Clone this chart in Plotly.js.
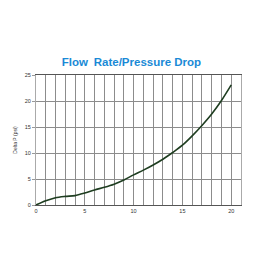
<!DOCTYPE html>
<html><head><meta charset="utf-8">
<script src="https://cdn.plot.ly/plotly-3.0.1.min.js"></script>
<style>html,body{margin:0;padding:0;background:#fff}#c{width:270px;height:270px}</style>
</head><body><div id="c"></div>
<script>
const flowRate = [0,1,2,3,4,5,6,7,8,9,10,11,12,13,14,15,16,17,18,19,20];
const deltaP = [0,0.8,1.4,1.65,1.8,2.3,2.9,3.4,4.0,4.8,5.8,6.7,7.7,8.8,10.1,11.5,13.3,15.3,17.5,20.1,23.1];
const xTicks = [0,5,10,15,20];
const yTicks = [0,5,10,15,20,25];
const titleText = "Flow\u2002Rate/Pressure Drop";
const yTitle = "Delta P (psi)";

Plotly.newPlot('c', [{
  x: flowRate, y: deltaP, type: 'scatter', mode: 'lines',
  line: {color: '#1e3d20', width: 1.6, shape: 'spline', smoothing: 0.8},
  hoverinfo: 'skip'
}], {
  width: 270, height: 270,
  margin: {l: 35.5, r: 29, t: 74.5, b: 65},
  paper_bgcolor: '#fff', plot_bgcolor: '#fff',
  showlegend: false,
  title: {text: titleText, font: {family: 'Liberation Sans, Arial', size: 11.5, color: '#1a8ad6', weight: 'bold'},
          xref: 'container', x: 0.487, xanchor: 'center', yref: 'container', y: 0.771, yanchor: 'middle'},
  xaxis: {range: [0, 21], tickvals: xTicks, ticktext: xTicks.map(String),
          showgrid: true, gridcolor: '#8c8c8c', gridwidth: 1,
          tickmode: 'array', minor: {tickvals: flowRate, showgrid: true, gridcolor: '#8c8c8c', gridwidth: 1},
          showline: true, linecolor: '#555', linewidth: 1, mirror: true,
          zeroline: false, ticks: '', tickfont: {family: 'Liberation Sans, Arial', size: 5.5, color: '#333'},
          fixedrange: true},
  yaxis: {range: [0, 25], tickvals: yTicks, ticktext: yTicks.map(String), tickmode: 'array',
          showgrid: true, gridcolor: '#8c8c8c', gridwidth: 1,
          showline: true, linecolor: '#aaa', linewidth: 1, mirror: true,
          zeroline: false, ticks: 'outside', ticklen: 3, tickcolor: '#999',
          tickfont: {family: 'Liberation Sans, Arial', size: 5.5, color: '#333'},
          title: {text: yTitle, font: {family: 'Liberation Sans, Arial', size: 5, color: '#333'}, standoff: 7},
          fixedrange: true}
}, {displayModeBar: false, staticPlot: true});
</script></body></html>
